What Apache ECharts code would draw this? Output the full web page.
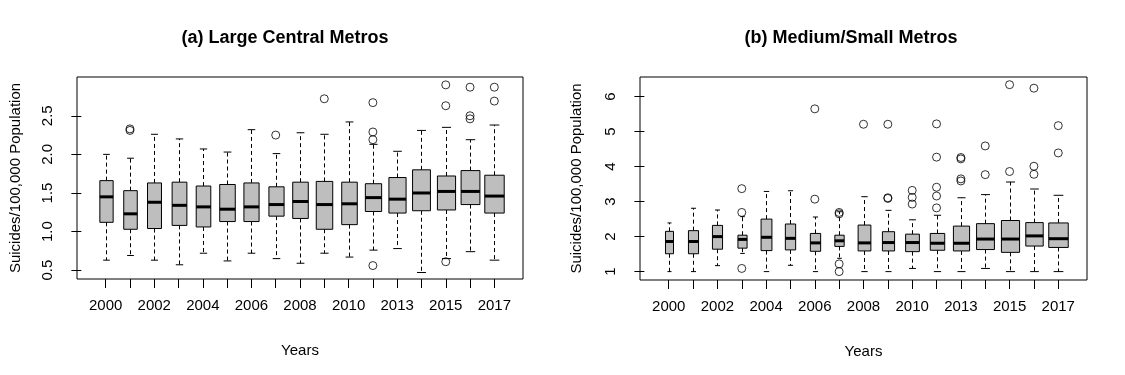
<!DOCTYPE html>
<html>
<head>
<meta charset="utf-8">
<script src="https://cdn.jsdelivr.net/npm/echarts@6/dist/echarts.min.js"></script>
<style>
html,body{margin:0;padding:0;background:#fff;}
#chart{width:1125px;height:375px;}
</style>
</head>
<body>
<div id="chart"></div>
<script>
// ---- Data ----
const years = ['2000','2001','2002','2003','2004','2005','2006','2007','2008','2009','2010','2011','2013','2014','2015','2016','2017'];
const labelYears = ['2000','2002','2004','2006','2008','2010','2013','2015','2017'];

// Panel (a) Large Central Metros: [min whisker, Q1, median, Q3, max whisker]
const statsLarge = [
  [0.63, 1.12, 1.45, 1.66, 2.00],
  [0.69, 1.03, 1.23, 1.53, 1.95],
  [0.63, 1.04, 1.38, 1.63, 2.26],
  [0.57, 1.08, 1.34, 1.64, 2.20],
  [0.72, 1.06, 1.32, 1.59, 2.07],
  [0.62, 1.13, 1.29, 1.61, 2.03],
  [0.72, 1.13, 1.32, 1.63, 2.32],
  [0.65, 1.20, 1.35, 1.58, 2.01],
  [0.59, 1.17, 1.39, 1.64, 2.28],
  [0.72, 1.03, 1.35, 1.65, 2.26],
  [0.67, 1.09, 1.36, 1.64, 2.42],
  [0.76, 1.26, 1.44, 1.62, 2.13],
  [0.78, 1.24, 1.42, 1.70, 2.04],
  [0.47, 1.27, 1.50, 1.80, 2.31],
  [0.65, 1.28, 1.52, 1.72, 2.35],
  [0.74, 1.35, 1.52, 1.79, 2.19],
  [0.63, 1.24, 1.46, 1.73, 2.38]
];
const outliersLarge = [
  [], [2.33, 2.31], [], [], [], [], [], [2.25], [], [2.72], [],
  [2.67, 2.29, 2.19, 0.56], [], [], [2.90, 2.63, 0.61], [2.87, 2.50, 2.46], [2.87, 2.69]
];
const countsLarge = [30,31,33,37,36,41,39,39,41,46,41,45,50,54,56,60,64];

// Panel (b) Medium/Small Metros
const statsMedium = [
  [1.00, 1.51, 1.86, 2.15, 2.39],
  [1.00, 1.51, 1.86, 2.17, 2.81],
  [1.17, 1.64, 2.00, 2.32, 2.76],
  [1.52, 1.67, 1.92, 2.04, 2.57],
  [1.00, 1.60, 1.98, 2.50, 3.29],
  [1.18, 1.62, 1.95, 2.36, 3.31],
  [1.00, 1.58, 1.82, 2.09, 2.56],
  [1.38, 1.72, 1.88, 2.04, 2.71],
  [1.00, 1.59, 1.82, 2.33, 3.14],
  [1.00, 1.59, 1.83, 2.14, 2.75],
  [1.09, 1.57, 1.83, 2.07, 2.48],
  [1.00, 1.61, 1.81, 2.09, 2.61],
  [1.00, 1.59, 1.81, 2.30, 3.11],
  [1.09, 1.63, 1.93, 2.37, 3.20],
  [1.00, 1.55, 1.93, 2.46, 3.56],
  [1.00, 1.73, 2.02, 2.40, 3.36],
  [1.00, 1.69, 1.94, 2.39, 3.18]
];
const outliersMedium = [
  [], [], [], [3.37, 2.69, 1.09], [], [], [5.65, 3.07], [2.69, 2.65, 1.22, 1.00],
  [5.21], [5.21, 3.11, 3.09], [3.32, 3.12, 2.93], [5.22, 4.27, 3.41, 3.16, 2.82],
  [4.26, 4.22, 3.65, 3.59], [4.59, 3.77], [6.34, 3.86], [6.24, 4.01, 3.78], [5.17, 4.39]
];
const countsMedium = [17,27,27,22,31,28,28,23,43,39,50,55,69,84,87,80,100];

const ticksLarge = [0.5, 1.0, 1.5, 2.0, 2.5];
const ticksMedium = [1, 2, 3, 4, 5, 6];

// ---- Build ----
const FONT = '"Liberation Sans", Arial, Helvetica, sans-serif';
const positions = years.map((_, i) => i + 1);
const labelPositions = labelYears.map(y => years.indexOf(y) + 1);

function boxData(stats) {
  return stats.map((s, i) => [i + 1].concat(s));
}
function outlierData(outs) {
  const arr = [];
  outs.forEach((list, i) => list.forEach(v => arr.push([i + 1, v])));
  return arr;
}
function makeRender(counts) {
  const nMax = Math.max.apply(null, counts);
  return function (params, api) {
    const x = api.value(0);
    const pMin = api.coord([x, api.value(1)]);
    const pQ1 = api.coord([x, api.value(2)]);
    const pMed = api.coord([x, api.value(3)]);
    const pQ3 = api.coord([x, api.value(4)]);
    const pMax = api.coord([x, api.value(5)]);
    const bw = api.size([0.8 * Math.sqrt(counts[params.dataIndex] / nMax), 0])[0];
    const cx = Math.round(pMin[0]) + 0.5;
    const half = bw / 2, st = bw / 4;
    const dash = { stroke: '#000', lineWidth: 1, lineDash: [4, 3] };
    const solid = { stroke: '#000', lineWidth: 1 };
    return {
      type: 'group',
      children: [
        { type: 'line', shape: { x1: cx, y1: pQ3[1], x2: cx, y2: pMax[1] }, style: dash },
        { type: 'line', shape: { x1: cx, y1: pQ1[1], x2: cx, y2: pMin[1] }, style: dash },
        { type: 'line', shape: { x1: cx - st, y1: pMax[1], x2: cx + st, y2: pMax[1] }, style: solid },
        { type: 'line', shape: { x1: cx - st, y1: pMin[1], x2: cx + st, y2: pMin[1] }, style: solid },
        { type: 'rect', shape: { x: cx - half, y: pQ3[1], width: bw, height: pQ1[1] - pQ3[1] },
          style: { fill: '#bebebe', stroke: '#000', lineWidth: 1 } },
        { type: 'line', shape: { x1: cx - half, y1: pMed[1], x2: cx + half, y2: pMed[1] },
          style: { stroke: '#000', lineWidth: 3 } }
      ]
    };
  };
}

function xAxisCfg(gridIndex) {
  return {
    type: 'value', gridIndex: gridIndex, min: -0.18, max: 18.18,
    name: 'Years', nameLocation: 'middle', nameGap: 64,
    nameTextStyle: { fontFamily: FONT, fontSize: 15, color: '#000' },
    axisLine: { show: false },
    splitLine: { show: false },
    axisTick: { show: true, length: 9, customValues: positions, lineStyle: { color: '#000' } },
    axisLabel: {
      customValues: labelPositions, margin: 19,
      fontFamily: FONT, fontSize: 15, color: '#000',
      formatter: v => years[Math.round(v) - 1]
    }
  };
}
function yAxisCfg(gridIndex, min, max, ticks, decimals, nameGap, margin) {
  return {
    type: 'value', gridIndex: gridIndex, min: min, max: max,
    name: 'Suicides/100,000 Population', nameLocation: 'middle', nameRotate: 90, nameGap: nameGap,
    nameTextStyle: { fontFamily: FONT, fontSize: 15, color: '#000' },
    axisLine: { show: false },
    splitLine: { show: false },
    axisTick: { show: true, length: 10, customValues: ticks, lineStyle: { color: '#000' } },
    axisLabel: {
      customValues: ticks, rotate: 90, margin: margin,
      fontFamily: FONT, fontSize: 15, color: '#000',
      formatter: v => Number(v).toFixed(decimals)
    }
  };
}

const outlierStyle = { color: 'rgba(0,0,0,0)', borderColor: '#000', borderWidth: 1 };

const option = {
  animation: false,
  backgroundColor: '#fff',
  graphic: [
    { type: 'text', x: 285, y: 38, style: { text: '(a) Large Central Metros', font: 'bold 18px ' + FONT, fill: '#000', textAlign: 'center', textVerticalAlign: 'middle' } },
    { type: 'text', x: 851, y: 38, style: { text: '(b) Medium/Small Metros', font: 'bold 18px ' + FONT, fill: '#000', textAlign: 'center', textVerticalAlign: 'middle' } }
  ],
  grid: [
    { left: 77, top: 77, width: 446, height: 202, show: true, borderColor: '#000', borderWidth: 1, backgroundColor: 'transparent' },
    { left: 640, top: 77, width: 447, height: 203, show: true, borderColor: '#000', borderWidth: 1, backgroundColor: 'transparent' }
  ],
  xAxis: [xAxisCfg(0), xAxisCfg(1)],
  yAxis: [
    yAxisCfg(0, 0.386, 3.002, ticksLarge, 1, 54, 22),
    yAxisCfg(1, 0.76, 6.56, ticksMedium, 0, 56, 22)
  ],
  series: [
    { type: 'custom', xAxisIndex: 0, yAxisIndex: 0, data: boxData(statsLarge),
      encode: { x: 0, y: [1, 2, 3, 4, 5] }, renderItem: makeRender(countsLarge), silent: true },
    { type: 'scatter', xAxisIndex: 0, yAxisIndex: 0, data: outlierData(outliersLarge),
      symbol: 'circle', symbolSize: 8, itemStyle: outlierStyle, silent: true },
    { type: 'custom', xAxisIndex: 1, yAxisIndex: 1, data: boxData(statsMedium),
      encode: { x: 0, y: [1, 2, 3, 4, 5] }, renderItem: makeRender(countsMedium), silent: true },
    { type: 'scatter', xAxisIndex: 1, yAxisIndex: 1, data: outlierData(outliersMedium),
      symbol: 'circle', symbolSize: 8, itemStyle: outlierStyle, silent: true }
  ]
};

const chart = echarts.init(document.getElementById('chart'), null, { renderer: 'canvas' });
chart.setOption(option);
</script>
</body>
</html>
